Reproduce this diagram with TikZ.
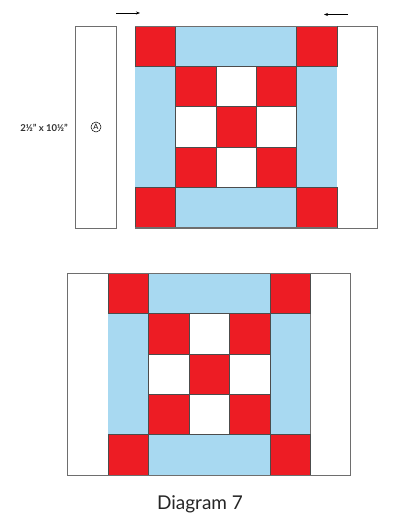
\documentclass[tikz,border=0pt]{standalone}
\usepackage{fontspec}
\setmainfont{Lato}
\usetikzlibrary{arrows.meta}
\definecolor{qred}{HTML}{ED1C24}
\definecolor{qblue}{HTML}{A8D9F1}
\definecolor{qedge}{HTML}{6E6E6E}
\tikzset{
  strip/.style={draw=qedge, line width=0.7pt, fill=white},
  redcell/.style={fill=qred, draw=black!70, line width=0.4pt},
  bluecell/.style={fill=qblue, draw=none},
  whitecell/.style={fill=white, draw=black!70, line width=0.4pt},
  pressarrow/.style={line width=0.6pt, -{Stealth[length=4pt,width=3pt]}},
  blockborder/.style={draw=qedge, line width=0.7pt}
}
\newcommand{\quiltblk}{%
  \fill[qblue] (1,0) rectangle (4,1);
  \fill[qblue] (1,4) rectangle (4,5);
  \fill[qblue] (0,1) rectangle (1,4);
  \fill[qblue] (4,1) rectangle (5,4);
  \foreach \i/\j in {1/1,2/1,3/1,1/2,2/2,3/2,1/3,2/3,3/3}{
    \path[whitecell] (\i,\j) rectangle ++(1,1);
  }
  \foreach \i/\j in {0/0,4/0,0/4,4/4,1/1,3/1,2/2,1/3,3/3}{
    \path[redcell] (\i,\j) rectangle ++(1,1);
  }
  \draw[blockborder] (0,0) -- (5,0);
  \draw[blockborder] (0,5) -- (5,5);
}
\begin{document}
\begin{tikzpicture}[x=1pt,y=-1pt]
\useasboundingbox[fill=white] (0,0) rectangle (400,520);
% top row: strip A separate, block with right strip
\path[strip] (75,26) rectangle (116,228);
\path[strip] (135.3,26) rectangle (377.3,228);
\begin{scope}[shift={(135.3,26)},x=40.3pt,y=-40.3pt]
  \quiltblk
\end{scope}
\node[font=\fontsize{9.5}{10}\selectfont\bfseries, text=black!80] (dim) at (44,127.5) {2½" x 10½"};
\node[draw, circle, inner sep=0.7pt, minimum size=10pt, line width=0.5pt, font=\fontsize{7.5}{8}\selectfont] (A) at (96,127) {A};
\coordinate (l1) at (116,13);
\coordinate (l2) at (140,13);
\coordinate (r1) at (348,14.5);
\coordinate (r2) at (324,14.5);
\draw[pressarrow] (l1) -- (l2);
\draw[pressarrow] (r1) -- (r2);
% bottom: joined
\path[strip] (67.3,273.3) rectangle (350.7,475);
\draw[qedge, line width=0.7pt] (310.2,273.3) -- (310.2,475);
\begin{scope}[shift={(107.7,273.3)},x=40.5pt,y=-40.34pt]
  \quiltblk
\end{scope}
\draw[qedge, line width=0.7pt] (67.3,273.3) rectangle (350.7,475);
\node[font=\fontsize{19}{22}\selectfont, text=black!85] (cap) at (200,504) {Diagram 7};
\end{tikzpicture}
\end{document}
